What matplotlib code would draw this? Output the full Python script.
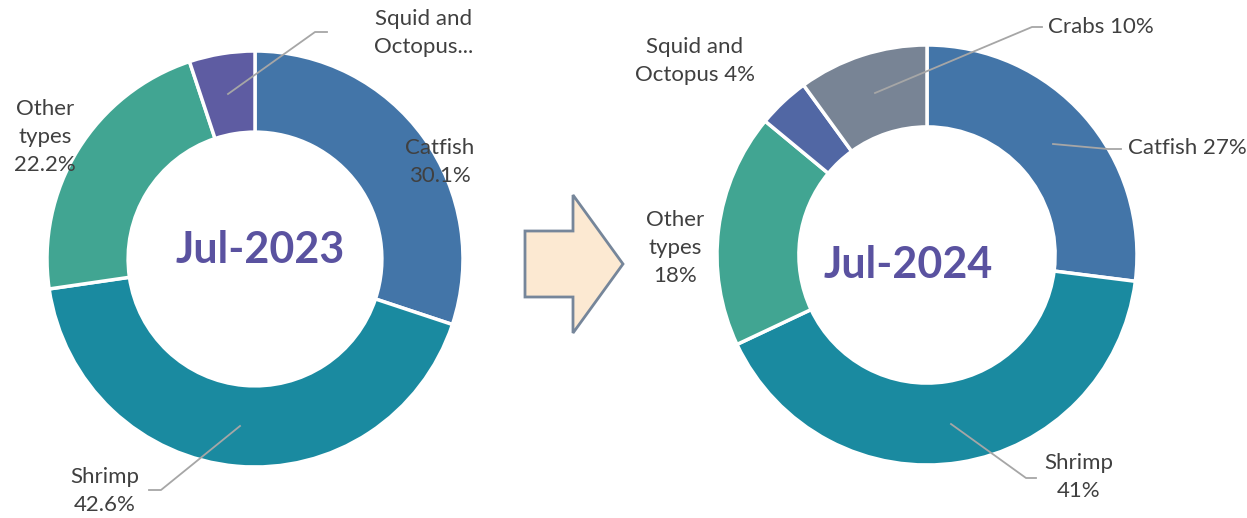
import matplotlib.pyplot as plt
from matplotlib.patches import Polygon

plt.rcParams['font.family'] = ['Lato', 'DejaVu Sans']

W, H = 1247, 518

# data
labels_2023 = ['Catfish', 'Shrimp', 'Other types', 'Squid and Octopus']
values_2023 = [30.1, 42.6, 22.2, 5.1]
colors_2023 = ['#4375A8', '#1A8AA0', '#41A592', '#5E5CA2']

labels_2024 = ['Catfish', 'Shrimp', 'Other types', 'Squid and Octopus', 'Crabs']
values_2024 = [27, 41, 18, 4, 10]
colors_2024 = ['#4375A8', '#1A8AA0', '#41A592', '#5167A4', '#788495']

TEXT = '#404040'
LINE = '#A6A6A6'
TITLE = '#5A52A0'


def Y(y):
    # image pixel row -> data y
    return H - y


fig = plt.figure(figsize=(W / 100, H / 100), dpi=100)
ax = fig.add_axes([0, 0, 1, 1])
ax.set_xlim(0, W)
ax.set_ylim(0, H)
ax.set_aspect('equal')
ax.axis('off')


def donut(values, colors, cx, cy, r):
    ax.pie(values, colors=colors, startangle=90, counterclock=False,
           center=(cx, Y(cy)), radius=r, frame=True,
           wedgeprops=dict(width=r * 0.39, edgecolor='white', linewidth=2.5))


donut(values_2023, colors_2023, 255, 259, 208)
donut(values_2024, colors_2024, 927, 255, 210)
ax.set_xlim(0, W)
ax.set_ylim(0, H)
ax.axis('off')

ax.text(260, Y(250), 'Jul-2023', ha='center', va='center', fontsize=31,
        fontweight='bold', color=TITLE)
ax.text(908, Y(265), 'Jul-2024', ha='center', va='center', fontsize=31,
        fontweight='bold', color=TITLE)


def label(x, y, s):
    ax.text(x, Y(y), s, ha='center', va='center', fontsize=16, color=TEXT,
            linespacing=1.52)


def leader(pts):
    ax.plot([p[0] for p in pts], [Y(p[1]) for p in pts], color=LINE, lw=1.3)


# left chart labels
label(440, 162, f'{labels_2023[0]}\n{values_2023[0]}%')
label(105, 491, f'{labels_2023[1]}\n{values_2023[1]}%')
label(45, 137, 'Other\ntypes\n' + f'{values_2023[2]}%')
label(424, 33, 'Squid and\nOctopus...')
leader([(240, 426), (161, 490), (149, 490)])
leader([(228, 94), (315, 32), (327, 32)])

# right chart labels
label(1187, 148, f'{labels_2024[0]} {values_2024[0]}%')
label(1079, 477, f'{labels_2024[1]}\n{values_2024[1]}%')
label(675, 248, 'Other\ntypes\n' + f'{values_2024[2]}%')
label(695, 61, f'Squid and\nOctopus {values_2024[3]}%')
label(1101, 27, f'{labels_2024[4]} {values_2024[4]}%')
leader([(1053, 144), (1108, 149), (1121, 149)])
leader([(951, 424), (1026, 478), (1036, 478)])
leader([(875, 93), (1032, 27), (1042, 27)])

# arrow between charts
arrow = [(525, 231), (573, 231), (573, 195), (623, 264),
         (573, 333), (573, 297), (525, 297)]
ax.add_patch(Polygon([(x, Y(y)) for x, y in arrow], closed=True,
                     facecolor='#FCE9D2', edgecolor='#76869A', lw=2))

fig.savefig('out.png', dpi=100)
